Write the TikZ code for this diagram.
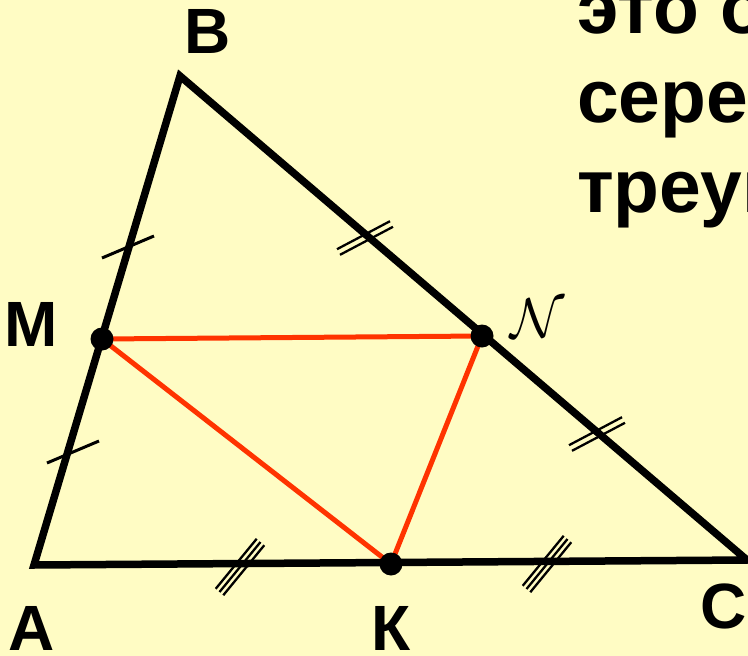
\documentclass[tikz,border=0pt]{standalone}
\usepackage{fontspec}
\setmainfont{Liberation Sans}
\usetikzlibrary{calc}
\definecolor{bgyellow}{RGB}{255,252,196}
\definecolor{midred}{RGB}{255,51,0}
\newcommand\tickat[3]{\draw[tickline] ($(#1)+(#2,#3)$) -- ($(#1)-(#2,#3)$);}
\begin{document}
\begin{tikzpicture}[x=1pt,y=-1pt,
  side/.style={line width=7.5pt, line join=miter, line cap=rect},
  mid/.style={line width=5pt, color=midred},
  tickline/.style={line width=3pt},
  thintick/.style={line width=2.3pt},
  dot/.style={circle, fill=black, minimum size=23pt, inner sep=0pt},
  lbl/.style={font=\fontsize{64}{70}\selectfont\bfseries, inner sep=0pt},
  txt/.style={font=\fontsize{75}{90}\selectfont\bfseries, inner sep=0pt, anchor=base west}]
\useasboundingbox (0,0) rectangle (748,656);
\clip (0,0) rectangle (748,656);
\fill[bgyellow] (0,0) rectangle (748,656);
% vertices
\coordinate (A) at (34,565);
\coordinate (B) at (180,76);
\coordinate (C) at (747,560);
\coordinate (M) at (102,339);
\coordinate (N) at (482,336);
\coordinate (K) at (391,564);
% midline triangle
\draw[mid] (M) -- (N) -- (K) -- cycle;
% main triangle
\draw[side] (A) -- (B) -- (C) -- cycle;
% single ticks
\coordinate (t1) at (128,247);
\coordinate (t2) at (73,452);
\tickat{t1}{26}{-11}
\tickat{t2}{26}{-11}
% double ticks
\coordinate (d1) at (365,238);
\coordinate (d2) at (597,434);
\foreach \c in {d1,d2}{
  \foreach \s in {-1,1}{
    \draw[thintick] ($(\c)+(26.5,-14)+\s*(1.5,2.8)$) -- ($(\c)-(26.5,-14)+\s*(1.5,2.8)$);
  }
}
% triple ticks
\coordinate (r1) at (240,567);
\coordinate (r2) at (547,564);
\foreach \c in {r1,r2}{
  \foreach \s in {-1,0,1}{
    \draw[thintick] ($(\c)+(20.5,-25)+\s*(3.8,3.2)$) -- ($(\c)-(20.5,-25)+\s*(3.8,3.2)$);
  }
}
% points
\node[dot] (Md) at (M) {};
\node[dot] (Nd) at (N) {};
\node[dot] (Kd) at (K) {};
% labels
\node[lbl] (lB) at (208,31) {В};
\node[lbl] (lM) at (31,324) {М};
\node[lbl] (lA) at (32,628) {А};
\node[lbl] (lK) at (391,628) {К};
\node[lbl] (lC) at (724,606) {С};
\node[inner sep=0pt, scale=5.6] (lN) at (538,318) {$\mathcal{N}$};
% text
\node[txt] (x1) at (577,33) {это отрезок,};
\node[txt] (x2) at (577,122) {середины};
\node[txt] (x3) at (577,212) {треугольника};
\end{tikzpicture}
\end{document}
